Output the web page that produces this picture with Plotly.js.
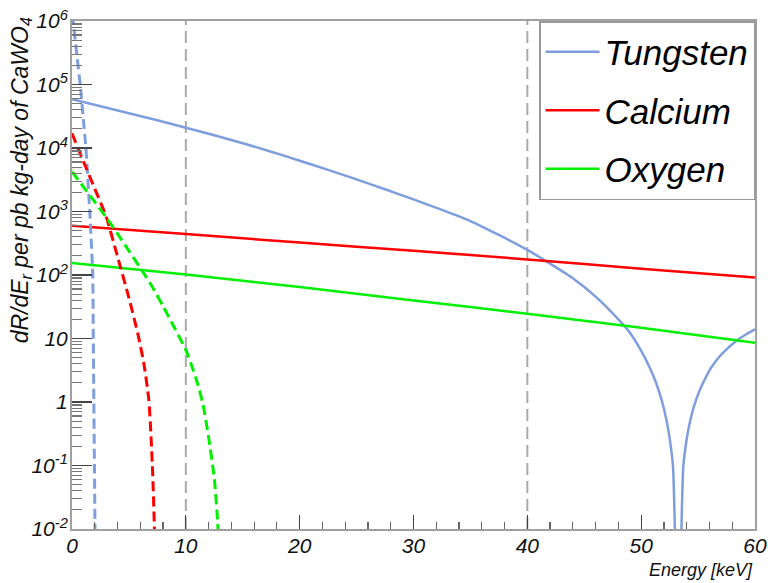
<!DOCTYPE html>
<html>
<head>
<meta charset="utf-8">
<script src="https://cdn.plot.ly/plotly-3.0.1.min.js"></script>
<style>
  html, body { margin: 0; padding: 0; background: #ffffff; }
  #chart { width: 768px; height: 583px; }
</style>
</head>
<body>
<div id="chart"></div>
<script>
// ---- Data ----
const seriesNames = ["Tungsten", "Calcium", "Oxygen"];
const seriesColors = ["#7f9ede", "#ff0000", "#00f000"];

// Solid curves (heavier WIMP)
const energyTungsten = [0, 2.5, 5, 7.5, 10, 12.5, 15, 17.5, 20, 22.5, 25, 27.5, 30, 32.5, 35, 37.5, 40, 42, 44, 46, 48, 49, 50, 50.75, 51.3, 51.8, 52.2, 52.5, 52.8, 53.25, 53.7, 54, 54.25, 54.5, 54.8, 55.2, 55.6, 56, 56.5, 57, 57.5, 58, 58.6, 59.3, 60];
const rateTungsten   = [58500, 45400, 35300, 27300, 20900, 15850, 11900, 8750, 6310, 4520, 3200, 2240, 1550, 1060, 708, 427, 248, 151, 89, 45.7, 20.0, 12.4, 6.4, 3.5, 2.03, 1.07, 0.54, 0.27, 0.094, 0.0001, 0.096, 0.261, 0.456, 0.70, 1.05, 1.62, 2.29, 3.16, 4.27, 5.5, 6.76, 8.13, 9.9, 11.9, 14.0];

const energyCalcium = [0, 10, 20, 30, 40, 50, 60];
const rateCalcium   = [597, 442, 324, 240, 176, 126, 91];

const energyOxygen = [0, 10, 20, 30, 40, 50, 60];
const rateOxygen   = [155, 102, 64.6, 39.8, 24.5, 14.8, 8.6];

// Dashed curves (light WIMP)
const energyTungstenLight = [0, 0.1, 0.4, 0.72, 1.0, 1.22, 1.56, 1.82, 1.87, 1.92, 1.97, 2.02, 2.06];
const rateTungstenLight   = [1.26e6, 1.0e6, 3.2e5, 1.0e5, 2.8e4, 1.0e4, 1.0e3, 100, 10, 1, 0.1, 0.01, 0.001];

const energyCalciumLight = [0, 1, 2, 3, 4, 5, 5.8, 6.3, 6.75, 7.06, 7.24, 7.4];
const rateCalciumLight   = [17000, 6170, 2290, 832, 195, 43.7, 11.5, 4.17, 1.07, 0.1, 0.01, 0.00032];

const energyOxygenLight = [0, 1, 2, 3, 4, 5, 6, 7, 8, 9, 10, 10.5, 11, 11.5, 12, 12.5, 12.8, 13.1];
const rateOxygenLight   = [4240, 2455, 1413, 813, 447, 240, 129, 67.6, 32.4, 14.8, 6.6, 3.8, 2.04, 0.93, 0.28, 0.063, 0.0126, 0.001];

const markerEnergies = [10, 40];  // vertical dashed guides

const xTickVals = [0, 10, 20, 30, 40, 50, 60];
const xTickText = ["0", "10", "20", "30", "40", "50", "60"];
const yTickVals = [0.01, 0.1, 1, 10, 100, 1000, 10000, 100000, 1000000];
const yTickText = ["10<sup>-2</sup>", "10<sup>-1</sup>", "1", "10", "10<sup>2</sup>", "10<sup>3</sup>", "10<sup>4</sup>", "10<sup>5</sup>", "10<sup>6</sup>"];

// ---- Build traces ----
const solidX = [energyTungsten, energyCalcium, energyOxygen];
const solidY = [rateTungsten, rateCalcium, rateOxygen];
const dashX = [energyTungstenLight, energyCalciumLight, energyOxygenLight];
const dashY = [rateTungstenLight, rateCalciumLight, rateOxygenLight];

const traces = [];
for (let i = 0; i < 3; i++) {
  traces.push({
    x: solidX[i], y: solidY[i], type: "scatter", mode: "lines",
    name: seriesNames[i], legendgroup: seriesNames[i],
    line: { color: seriesColors[i], width: 2.5, shape: "spline", smoothing: 0.6 },
    hoverinfo: "skip"
  });
}
for (let i = 0; i < 3; i++) {
  traces.push({
    x: dashX[i], y: dashY[i], type: "scatter", mode: "lines",
    name: seriesNames[i] + " (light)", legendgroup: seriesNames[i], showlegend: false,
    line: { color: seriesColors[i], width: 3, dash: "10px,5px", shape: "spline", smoothing: 0.6 },
    hoverinfo: "skip"
  });
}

const fontFam = "Liberation Sans, Arial, Helvetica, sans-serif";

const shapes = markerEnergies.map(e => ({
  type: "line", xref: "x", yref: "paper", x0: e, x1: e, y0: 0, y1: 1,
  line: { color: "#aaaaaa", width: 2, dash: "12px,6px" }, layer: "below"
}));

const layout = {
  width: 768, height: 583,
  margin: { l: 71.5, r: 13, t: 21, b: 54, pad: 0 },
  paper_bgcolor: "#ffffff", plot_bgcolor: "#ffffff",
  showlegend: true,
  font: { family: fontFam, color: "#111111" },
  xaxis: {
    range: [0, 60], tickmode: "array", tickvals: xTickVals, ticktext: xTickText,
    ticks: "inside", ticklen: 14, tickwidth: 1.2, tickcolor: "#444444",
    minor: { dtick: 2, ticks: "inside", ticklen: 7, tickwidth: 1.2, tickcolor: "#666666", showgrid: false },
    showgrid: false, zeroline: false,
    showline: true, linecolor: "#a0a0a0", linewidth: 2, mirror: true,
    tickfont: { family: fontFam, size: 21, style: "italic", color: "#111111" },
    ticklabelstandoff: -3,
    automargin: false
  },
  yaxis: {
    type: "log", range: [-2, 6],
    tickmode: "array", tickvals: yTickVals, ticktext: yTickText,
    ticks: "inside", ticklen: 20, tickwidth: 1.2, tickcolor: "#444444",
    minor: { dtick: "D1", ticks: "inside", ticklen: 10, tickwidth: 1.2, tickcolor: "#777777", showgrid: false },
    showgrid: false, zeroline: false,
    showline: true, linecolor: "#a0a0a0", linewidth: 2, mirror: true,
    tickfont: { family: fontFam, size: 21, style: "italic", color: "#111111" },
    ticklabelstandoff: -2,
    automargin: false
  },
  legend: {
    x: 1, xanchor: "right", y: 1, yanchor: "top",
    bgcolor: "#ffffff", bordercolor: "#999999", borderwidth: 1.5,
    font: { family: fontFam, size: 35, style: "italic", color: "#000000" },
    tracegroupgap: 10, itemwidth: 54, traceorder: "grouped"
  },
  shapes: shapes,
  annotations: [
    {
      text: "Energy [keV]", xref: "paper", yref: "paper", x: 1, y: -0.081,
      xanchor: "right", yanchor: "middle", showarrow: false,
      font: { family: fontFam, size: 18, style: "italic", color: "#111111" }
    },
    {
      text: "dR/dE<sub>r</sub> per pb kg-day of CaWO<sub>4</sub>", xref: "paper", yref: "paper",
      x: -0.074, y: 1.012, xanchor: "center", yanchor: "top", textangle: -90, showarrow: false,
      font: { family: fontFam, size: 23, style: "italic", color: "#111111" }
    }
  ]
};

Plotly.newPlot("chart", traces, layout, { displayModeBar: false, staticPlot: true });
</script>
</body>
</html>
